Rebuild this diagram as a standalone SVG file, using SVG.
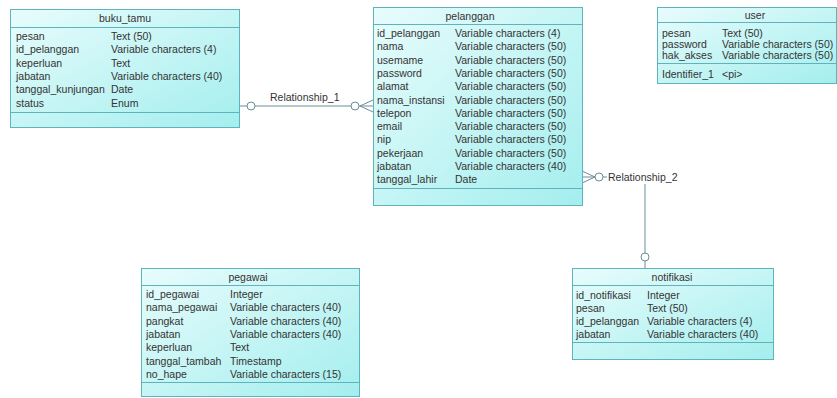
<svg xmlns="http://www.w3.org/2000/svg" width="837" height="398" viewBox="0 0 837 398">
<defs>
<linearGradient id="g" x1="0" y1="0" x2="1" y2="1">
<stop offset="0" stop-color="#e8fcfc"/>
<stop offset="1" stop-color="#a4eeee"/>
</linearGradient>
<style>
.box{fill:url(#g);stroke:#5fb3bd;stroke-width:1}
.ln{stroke:#5fb3bd;stroke-width:1}
text{font-family:"Liberation Sans",Arial,sans-serif;font-size:10.5px;fill:#333}
.t{text-anchor:middle}
.c{fill:none;stroke:#6a8f95;stroke-width:1}
.cf{fill:#fff;stroke:#6a8f95;stroke-width:1}
</style>
</defs>
<rect width="837" height="398" fill="#fff"/>

<g id="connectors">
<line class="c" x1="239" y1="106" x2="373" y2="106"/>
<circle class="cf" cx="251" cy="106" r="4"/>
<circle class="cf" cx="355" cy="106" r="4"/>
<polyline class="c" points="373,100 360,106 373,112"/>
<rect x="268" y="91" width="76" height="12" fill="#fff"/>
<text x="270" y="100.5">Relationship_1</text>
<line class="c" x1="582" y1="177" x2="607" y2="177"/>
<polyline class="c" points="582,171 595,177 582,183"/>
<circle class="cf" cx="599" cy="177" r="4"/>
<text x="608" y="181">Relationship_2</text>
<line class="c" x1="645" y1="184" x2="645" y2="268"/>
<circle class="cf" cx="645" cy="257" r="4"/>
</g>

<g id="buku_tamu">
<rect class="box" x="10.5" y="9.5" width="229" height="118"/>
<line class="ln" x1="10.5" y1="27.5" x2="239.5" y2="27.5"/>
<line class="ln" x1="10.5" y1="112.5" x2="239.5" y2="112.5"/>
<text class="t" x="125" y="22">buku_tamu</text>
<text x="16" y="40">pesan</text><text x="111" y="40">Text (50)</text>
<text x="16" y="53.3">id_pelanggan</text><text x="111" y="53.3">Variable characters (4)</text>
<text x="16" y="66.6">keperluan</text><text x="111" y="66.6">Text</text>
<text x="16" y="79.9">jabatan</text><text x="111" y="79.9">Variable characters (40)</text>
<text x="16" y="93.2">tanggal_kunjungan</text><text x="111" y="93.2">Date</text>
<text x="16" y="106.5">status</text><text x="111" y="106.5">Enum</text>
</g>

<g id="pelanggan">
<rect class="box" x="373.5" y="7.5" width="209" height="198"/>
<line class="ln" x1="373.5" y1="24.5" x2="582.5" y2="24.5"/>
<line class="ln" x1="373.5" y1="188.5" x2="582.5" y2="188.5"/>
<text class="t" x="470" y="19.5">pelanggan</text>
<text x="377" y="37">id_pelanggan</text><text x="455" y="37">Variable characters (4)</text>
<text x="377" y="50.3">nama</text><text x="455" y="50.3">Variable characters (50)</text>
<text x="377" y="63.6">usemame</text><text x="455" y="63.6">Variable characters (50)</text>
<text x="377" y="76.9">password</text><text x="455" y="76.9">Variable characters (50)</text>
<text x="377" y="90.2">alamat</text><text x="455" y="90.2">Variable characters (50)</text>
<text x="377" y="103.5">nama_instansi</text><text x="455" y="103.5">Variable characters (50)</text>
<text x="377" y="116.8">telepon</text><text x="455" y="116.8">Variable characters (50)</text>
<text x="377" y="130.1">email</text><text x="455" y="130.1">Variable characters (50)</text>
<text x="377" y="143.4">nip</text><text x="455" y="143.4">Variable characters (50)</text>
<text x="377" y="156.7">pekerjaan</text><text x="455" y="156.7">Variable characters (50)</text>
<text x="377" y="170">jabatan</text><text x="455" y="170">Variable characters (40)</text>
<text x="377" y="183.3">tanggal_lahir</text><text x="455" y="183.3">Date</text>
</g>

<g id="user">
<rect class="box" x="657.5" y="7.5" width="179" height="76"/>
<line class="ln" x1="657.5" y1="22.5" x2="836.5" y2="22.5"/>
<line class="ln" x1="657.5" y1="63.5" x2="836.5" y2="63.5"/>
<text class="t" x="755" y="18.5">user</text>
<text x="662" y="37">pesan</text><text x="722" y="37">Text (50)</text>
<text x="662" y="48">password</text><text x="722" y="48">Variable characters (50)</text>
<text x="662" y="59">hak_akses</text><text x="722" y="59">Variable characters (50)</text>
<text x="662" y="78">Identifier_1</text><text x="722" y="78">&lt;pi&gt;</text>
</g>

<g id="pegawai">
<rect class="box" x="141.5" y="268.5" width="218" height="128"/>
<line class="ln" x1="141.5" y1="285.5" x2="359.5" y2="285.5"/>
<line class="ln" x1="141.5" y1="382.5" x2="359.5" y2="382.5"/>
<text class="t" x="248" y="281">pegawai</text>
<text x="146" y="298">id_pegawai</text><text x="230" y="298">Integer</text>
<text x="146" y="311.3">nama_pegawai</text><text x="230" y="311.3">Variable characters (40)</text>
<text x="146" y="324.6">pangkat</text><text x="230" y="324.6">Variable characters (40)</text>
<text x="146" y="337.9">jabatan</text><text x="230" y="337.9">Variable characters (40)</text>
<text x="146" y="351.2">keperluan</text><text x="230" y="351.2">Text</text>
<text x="146" y="364.5">tanggal_tambah</text><text x="230" y="364.5">Timestamp</text>
<text x="146" y="377.8">no_hape</text><text x="230" y="377.8">Variable characters (15)</text>
</g>

<g id="notifikasi">
<rect class="box" x="572.5" y="268.5" width="201" height="91"/>
<line class="ln" x1="572.5" y1="285.5" x2="773.5" y2="285.5"/>
<line class="ln" x1="572.5" y1="342.5" x2="773.5" y2="342.5"/>
<text class="t" x="672" y="281">notifikasi</text>
<text x="576" y="298.5">id_notifikasi</text><text x="647" y="298.5">Integer</text>
<text x="576" y="311.5">pesan</text><text x="647" y="311.5">Text (50)</text>
<text x="576" y="324.5">id_pelanggan</text><text x="647" y="324.5">Variable characters (4)</text>
<text x="576" y="337.5">jabatan</text><text x="647" y="337.5">Variable characters (40)</text>
</g>
</svg>
